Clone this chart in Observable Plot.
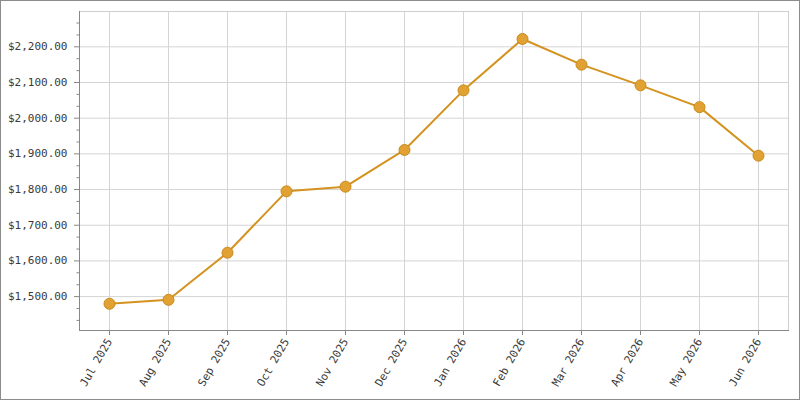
<!DOCTYPE html>
<html><head><meta charset="utf-8">
<script src="https://cdn.jsdelivr.net/npm/d3@7"></script>
<script src="https://cdn.jsdelivr.net/npm/@observablehq/plot@0.6"></script>
<style>
body{margin:0;background:#fff}
#chart svg{display:block;outline:1px solid #8c8c8c;outline-offset:-1px}
</style>
</head><body><div id="chart"></div>
<script>
const months = ["Jul 2025","Aug 2025","Sep 2025","Oct 2025","Nov 2025","Dec 2025","Jan 2026","Feb 2026","Mar 2026","Apr 2026","May 2026","Jun 2026"];
const values = [1480,1491,1623,1795,1808,1911,2078,2222,2150,2092,2031,1895];
const majorTicks = [1500,1600,1700,1800,1900,2000,2100,2200];
const minorTicks = [1433.3,1466.7,1533.3,1566.7,1633.3,1666.7,1733.3,1766.7,1833.3,1866.7,1933.3,1966.7,2033.3,2066.7,2133.3,2166.7,2233.3,2266.7];
const yDomain = [1405, 2299];

const data = months.map((m,i)=>({month:m, value:values[i]}));
const fmt = d => "$" + d3.format(",.2f")(d);
const font = "DejaVu Sans Mono";

const chart = Plot.plot({
  width: 800, height: 400,
  marginLeft: 79, marginRight: 12, marginTop: 11, marginBottom: 70,
  style: {fontFamily: font, fontSize: "11px", color: "#3a3a3a", background: "#fff"},
  x: {type: "point", domain: months, padding: 0.5, axis: null},
  y: {domain: yDomain, axis: null},
  marks: [
    Plot.gridY(majorTicks, {stroke: "#d4d4d4", strokeOpacity: 1}),
    Plot.gridX(months, {stroke: "#d4d4d4", strokeOpacity: 1}),
    Plot.frame({stroke: "#cfcfcf"}),
    Plot.frame({anchor: "left", stroke: "#888"}),
    Plot.frame({anchor: "bottom", stroke: "#888"}),
    Plot.axisY(minorTicks, {tickSize: 2.5, tickFormat: () => "", stroke: "#888", label: null}),
    Plot.axisY(majorTicks, {tickSize: 5, tickPadding: 7, tickFormat: fmt, stroke: "#888", fill: "#3a3a3a", fontFamily: font, fontSize: 11, label: null}),
    Plot.axisX(months, {tickSize: 5, tickPadding: 4, tickRotate: -60, stroke: "#888", fill: "#3a3a3a", fontFamily: font, fontSize: 11, label: null}),
    Plot.line(data, {x: "month", y: "value", stroke: "#D4921F", strokeWidth: 2}),
    Plot.dot(data, {x: "month", y: "value", r: 5.5, fill: "#E2A233", stroke: "#C98A1A", strokeWidth: 1})
  ]
});
document.getElementById("chart").append(chart);
</script>
</body></html>
